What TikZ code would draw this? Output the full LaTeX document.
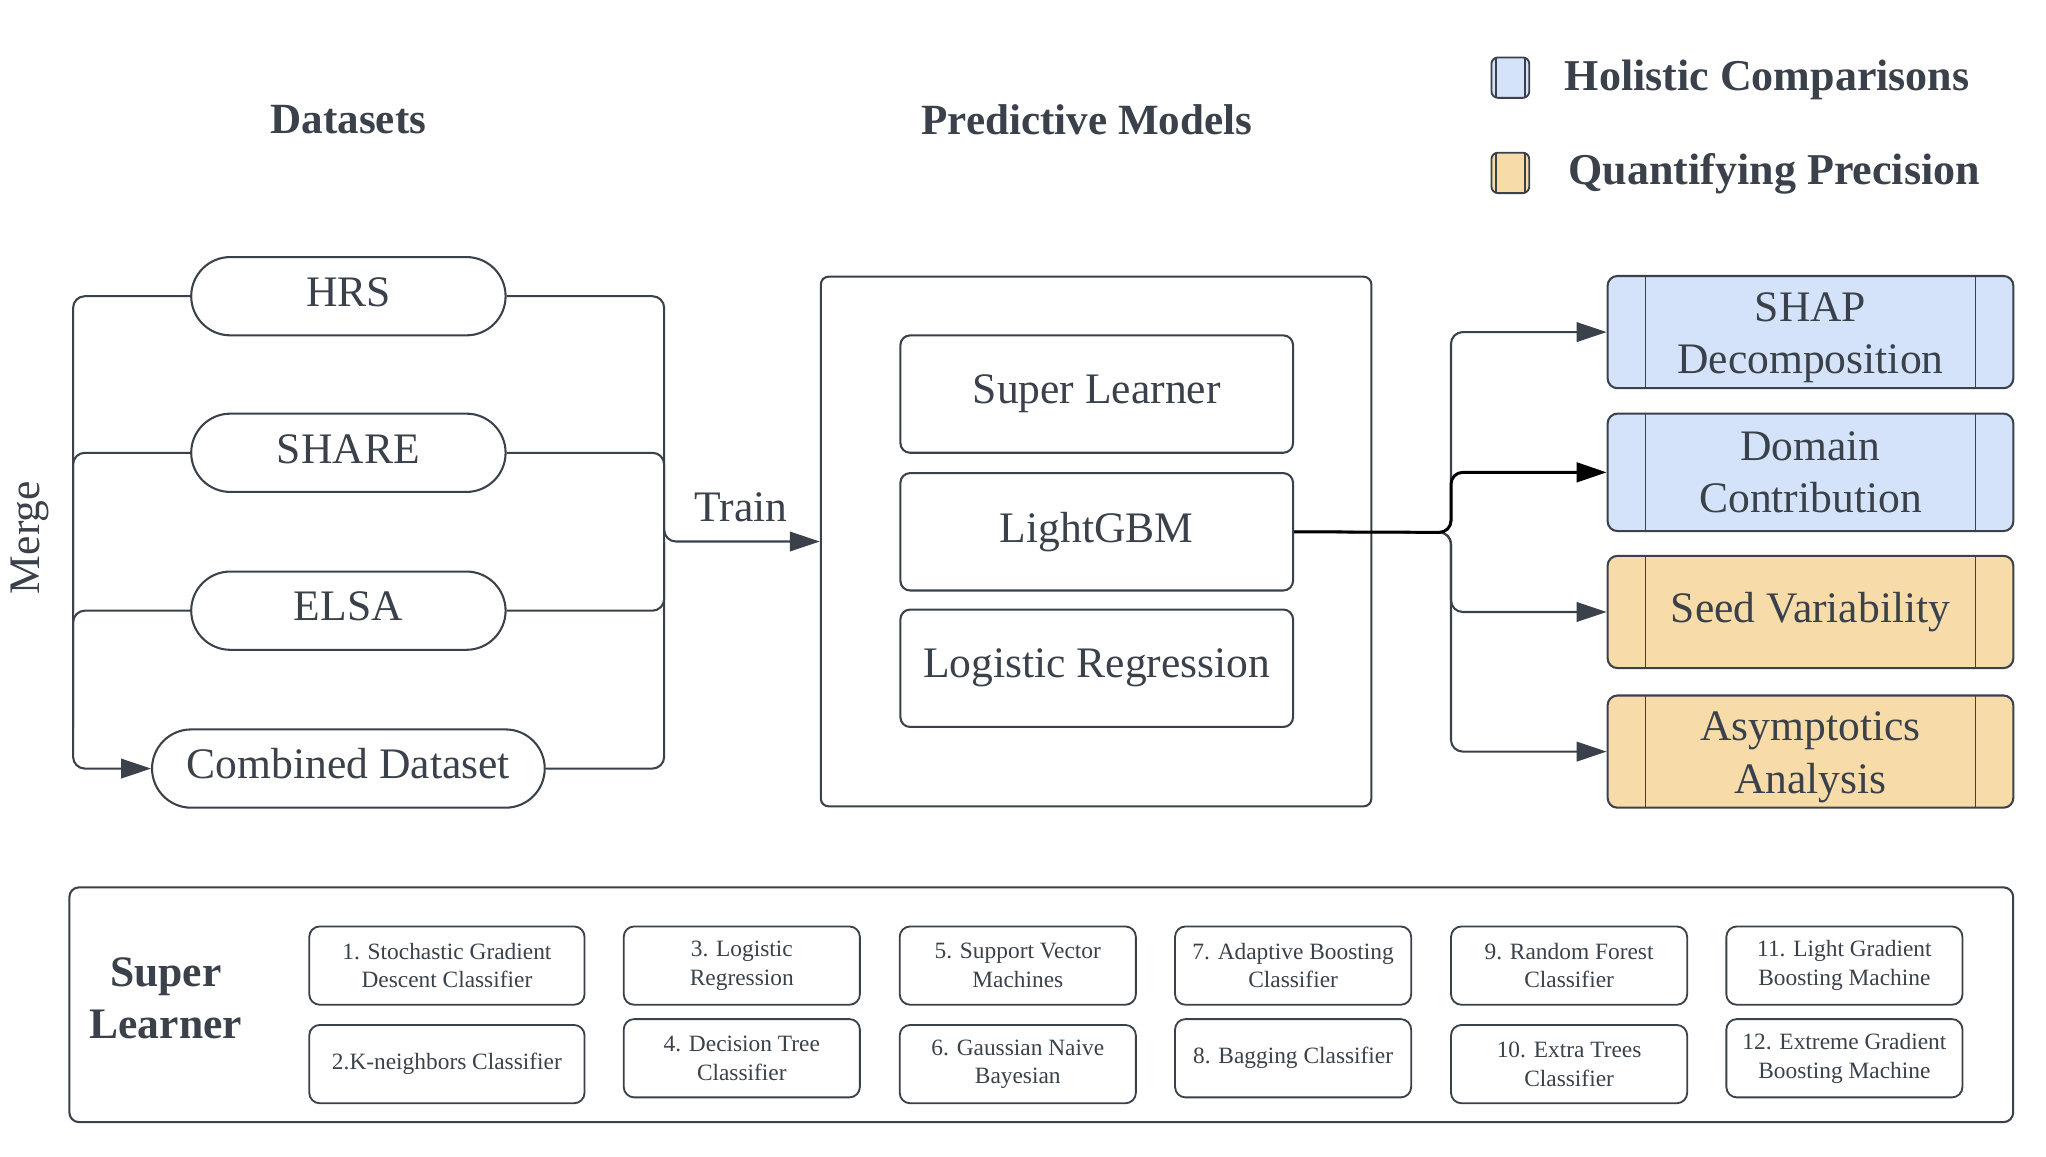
\documentclass[tikz,border=0pt]{standalone}
\usepackage{fontspec}
\setmainfont{Liberation Serif}
\usetikzlibrary{arrows.meta,positioning}

\definecolor{ink}{HTML}{3A414A}
\definecolor{holistic}{HTML}{D4E3F9}
\definecolor{precision}{HTML}{F7DCA9}

\tikzset{
  sidebars/.style={path picture={
      \draw[ink,line width=0.8pt]
        ([xshift=#1]path picture bounding box.north west) -- ([xshift=#1]path picture bounding box.south west)
        ([xshift=-#1]path picture bounding box.north east) -- ([xshift=-#1]path picture bounding box.south east);}},
  flow/.style={draw=ink,line width=0.9pt,rounded corners=0.18cm},
  tip/.style={-{Triangle[length=0.46cm,width=0.3cm]}},
}

\begin{document}
\begin{tikzpicture}[x=0.02cm,y=-0.02cm,
    every node/.style={text=ink},
    title/.style={font=\bfseries\fontsize{18.8}{22}\selectfont},
    dataset/.style={draw=ink,line width=0.9pt,rounded corners=0.6cm,minimum width=4.82cm,
                    minimum height=1.2cm,text height=13pt,text depth=4pt,font=\fontsize{19}{23}\selectfont},
    model/.style={draw=ink,line width=0.9pt,rounded corners=0.15cm,minimum width=6.02cm,
                  minimum height=1.8cm,font=\fontsize{19}{23}\selectfont},
    study/.style={draw=ink,line width=0.9pt,rounded corners=0.15cm,minimum width=6.22cm,inner ysep=1pt,
                  minimum height=1.72cm,align=center,font=\fontsize{19}{22.8}\selectfont,sidebars=0.58cm},
    key/.style={draw=ink,line width=0.8pt,rounded corners=0.1cm,minimum width=0.58cm,
                minimum height=0.62cm,sidebars=0.07cm},
    learner/.style={draw=ink,line width=0.8pt,rounded corners=0.16cm,minimum width=3.62cm,
                    minimum height=1.2cm,align=center,font=\fontsize{10.2}{12.5}\selectfont}]
    \useasboundingbox (0,0) rectangle (1568,886);

    % headers and legend
    \node[title]  (hdata)   at (267,92)            {Datasets};
    \node[title]  (hmodel)  at (833,92)            {Predictive Models};
    \node[key,fill=holistic]   (kblue)  at (1157.5,59.5)  {};
    \node[key,fill=precision]  (korange) at (1157.5,132.5) {};
    \node[title,font=\bfseries\fontsize{19.2}{22}\selectfont,anchor=west]  (lblue)   at (1193,61)   {Holistic Comparisons};
    \node[title,font=\bfseries\fontsize{19.2}{22}\selectfont,anchor=west]  (lorange) at (1196,133)  {Quantifying Precision};

    % datasets
    \node[dataset]  (hrs)   at (267,227)  {HRS};
    \node[dataset]  (share) at (267,347)  {SHARE};
    \node[dataset]  (elsa)  at (267,468)  {ELSA};
    \node[dataset,minimum width=6.02cm]  (comb)  at (267,589)  {Combined Dataset};
    \node[rotate=90,font=\fontsize{19}{23}\selectfont]  (merge) at (23,412)  {Merge};
    \coordinate (mergebus) at (56,0);
    \coordinate (trainbus) at (509,415);

    % predictive models
    \node[draw=ink,line width=0.9pt,rounded corners=0.12cm,minimum width=8.44cm,minimum height=8.12cm]
          (models) at (840,415) {};
    \node[model]  (superl)   at (840.5,302)             {Super Learner};
    \node[model]  (lightgbm) [below=0.28cm of superl]   {LightGBM};
    \node[model]  (logreg)   [below=0.26cm of lightgbm] {Logistic Regression};
    \node[font=\fontsize{19}{23}\selectfont]  (train) at (568,389)  {Train};

    % analyses
    \node[study,fill=holistic]   (shap)   at (1387.5,254.5)  {\rule{0pt}{17.5pt}SHAP\\Decomposition};
    \node[study,fill=holistic,minimum height=1.8cm]  (domain) at (1387.5,362)  {Domain\\Contribution};
    \node[study,fill=precision]  (seed)   at (1387.5,469)    {Seed Variability};
    \node[study,fill=precision]  (asym)   at (1387.5,576)    {\rule{0pt}{17.5pt}Asymptotics\\Analysis};
    \coordinate (outbus) at (1112,408);

    % merge and train
    \draw[flow,tip] (hrs.west) -- (hrs.west -| mergebus) |- (comb.west);
    \draw[flow] (share.west) -| (mergebus |- elsa.west);
    \draw[flow] (elsa.west) -| (mergebus |- comb.north);
    \draw[flow,tip] (hrs.east) -| (trainbus) -- (models.west);
    \draw[flow] (share.east) -| (trainbus);
    \draw[flow] (elsa.east) -| (trainbus);
    \draw[flow] (comb.east) -| (trainbus);

    % analyses of LightGBM
    \draw[flow,tip] (lightgbm.east) -- (outbus) |- (shap.west);
    \draw[flow,tip] (lightgbm.east) -- (outbus) |- (seed.west);
    \draw[flow,tip] (lightgbm.east) -- (outbus) |- (asym.west);
    \draw[flow,tip,draw=black,line width=1.3pt] (lightgbm.east) -- (outbus) |- (domain.west);

    % super learner base models
    \node[draw=ink,line width=0.9pt,rounded corners=0.15cm,minimum width=29.8cm,minimum height=3.6cm]
          (slframe) at (798,770) {};
    \node[title,align=center,font=\bfseries\fontsize{19}{22.9}\selectfont]  (sltitle) at (127,765)  {Super\\Learner};
    \node[learner,minimum width=4.22cm]  (sgd)   at (342.5,740)   {1. Stochastic Gradient\\Descent Classifier};
    \node[learner,minimum width=4.22cm]  (knn)   at (342.5,815.5) {2.K-neighbors Classifier};
    \node[learner]  (logit) at (568.5,740)   {3. Logistic\\Regression};
    \node[learner]  (tree)  at (568.5,811)   {4. Decision Tree\\Classifier};
    \node[learner]  (svm)   at (780,740)     {5. Support Vector\\Machines};
    \node[learner]  (gnb)   at (780,815.5)   {6. Gaussian Naive\\Bayesian};
    \node[learner]  (ada)   at (991,740)     {7. Adaptive Boosting\\Classifier};
    \node[learner]  (bag)   at (991,811)     {8. Bagging Classifier};
    \node[learner]  (rf)    at (1202.5,740)  {9. Random Forest\\Classifier};
    \node[learner]  (et)    at (1202.5,815.5) {10. Extra Trees\\Classifier};
    \node[learner]  (lgb)   at (1413.5,740)  {11. Light Gradient\\Boosting Machine};
    \node[learner]  (xgb)   at (1413.5,811)  {12. Extreme Gradient\\Boosting Machine};
\end{tikzpicture}
\end{document}
